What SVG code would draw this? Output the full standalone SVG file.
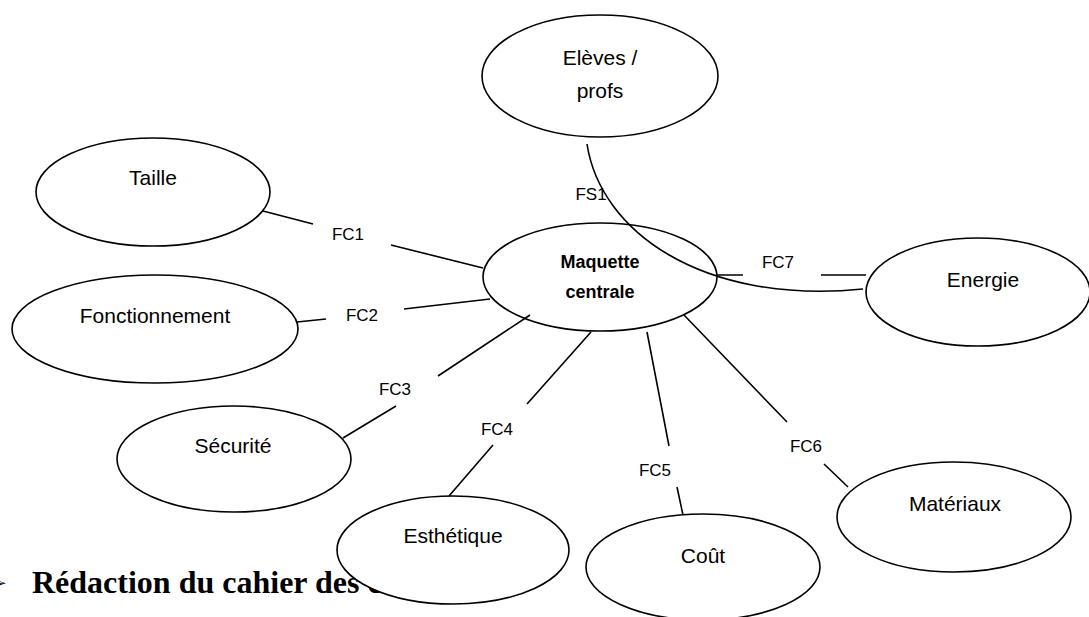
<svg xmlns="http://www.w3.org/2000/svg" width="1089" height="617" viewBox="0 0 1089 617">
<style>
.node{fill:#fff;stroke:#000;stroke-width:1.6}
.lbl{font-family:"Liberation Sans",Arial,sans-serif;font-size:21px;fill:#000;text-anchor:middle}
.main{font-family:"Liberation Sans",Arial,sans-serif;font-size:18px;font-weight:bold;fill:#000;text-anchor:middle}
.fc{font-family:"Liberation Sans",Arial,sans-serif;font-size:17px;fill:#000;text-anchor:middle}
.ln{fill:none;stroke:#000;stroke-width:1.6}
.head{font-family:"Liberation Serif","Times New Roman",serif;font-size:32px;font-weight:bold;fill:#000}
</style>
<rect width="1089" height="617" fill="#fff"/>
<g id="heading">
<text x="-6" y="588" font-family="DejaVu Sans,sans-serif" font-size="15" fill="#000">➢</text>
<text class="head" x="32" y="593">Rédaction du cahier des c</text>
</g>
<g id="eleves"><ellipse class="node" cx="600" cy="76" rx="118" ry="61"/><text class="lbl" x="600" y="65">Elèves /</text><text class="lbl" x="600" y="98">profs</text></g>
<g id="maquette"><ellipse class="node" cx="600" cy="277" rx="117" ry="54"/><text class="main" x="600" y="268">Maquette</text><text class="main" x="600" y="298">centrale</text></g>
<g id="taille"><ellipse class="node" cx="153" cy="192" rx="117" ry="54"/><text class="lbl" x="153" y="185">Taille</text></g>
<g id="fonctionnement"><ellipse class="node" cx="155" cy="329" rx="143" ry="54"/><text class="lbl" x="155" y="323">Fonctionnement</text></g>
<g id="securite"><ellipse class="node" cx="234" cy="459" rx="117" ry="53"/><text class="lbl" x="233" y="453">Sécurité</text></g>
<g id="esthetique"><ellipse class="node" cx="453" cy="550" rx="116" ry="54"/><text class="lbl" x="453" y="543">Esthétique</text></g>
<g id="cout"><ellipse class="node" cx="703" cy="567" rx="117" ry="53"/><text class="lbl" x="703" y="563">Coût</text></g>
<g id="materiaux"><ellipse class="node" cx="954" cy="517" rx="117" ry="55"/><text class="lbl" x="955" y="511">Matériaux</text></g>
<g id="energie"><ellipse class="node" cx="978" cy="292" rx="112" ry="54"/><text class="lbl" x="983" y="287">Energie</text></g>
<g id="connectors">
<path class="ln" d="M587,144 C600,230 700,305 863,289"/>
<text class="fc" x="591" y="200">FS1</text>
<path class="ln" d="M263,211 L313,224 M391,245 L483,268"/>
<text class="fc" x="348" y="240">FC1</text>
<path class="ln" d="M297,322 L326,319 M404,309 L490,299"/>
<text class="fc" x="362" y="321">FC2</text>
<path class="ln" d="M343,438 L396,406 M438,376 L530,315"/>
<text class="fc" x="395" y="395">FC3</text>
<path class="ln" d="M449,496 L493,445 M527,404 L591,332"/>
<text class="fc" x="497" y="435">FC4</text>
<path class="ln" d="M647,332 L669,446 M677,487 L683,515"/>
<text class="fc" x="655" y="476">FC5</text>
<path class="ln" d="M684,315 L787,422 M824,464 L848,487"/>
<text class="fc" x="806" y="452">FC6</text>
<path class="ln" d="M716,275 L743,275 M821,275 L866,275"/>
<text class="fc" x="778" y="268">FC7</text>
</g>
</svg>
